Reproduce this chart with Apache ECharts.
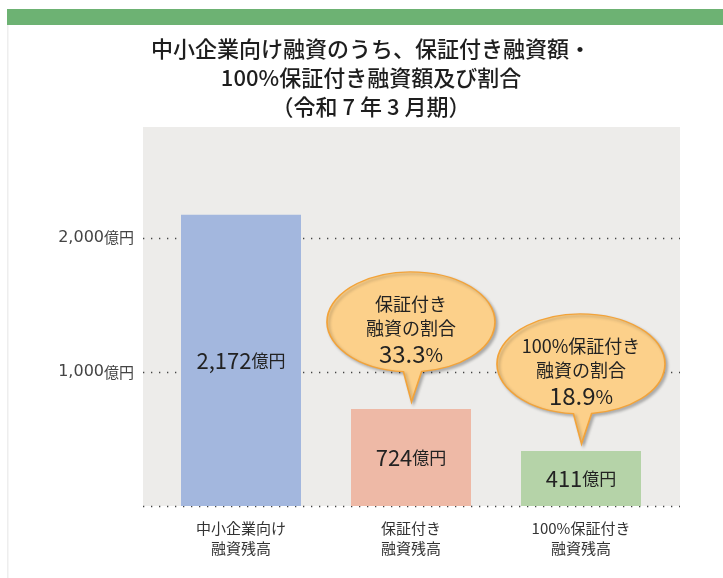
<!DOCTYPE html>
<html>
<head>
<meta charset="utf-8">
<script src="https://cdn.jsdelivr.net/npm/echarts@6/dist/echarts.min.js"></script>
<style>
  html, body { margin: 0; padding: 0; background: #fff; }
  #chart { width: 723px; height: 578px; }
</style>
</head>
<body>
<div id="chart"></div>
<script>
// 令和7年3月期 融資残高(億円)
const categories = ["中小企業向け\n融資残高", "保証付き\n融資残高", "100%保証付き\n融資残高"];
const amounts = [2172, 724, 411];
const barColors = ["#a3b7de", "#eeb9a6", "#b5d3a8"];
// 吹き出し(割合)
const ratioNames = ["保証付き\n融資の割合", "100%保証付き\n融資の割合"];
const ratioValues = ["33.3", "18.9"];
const ratioBarIndex = [1, 2];
const yTicks = [1000, 2000];

const FONT = "Noto Sans CJK JP";
const yMax = 2826;

// 吹き出しの形(楕円+しっぽ)
const bubblePath = "path://M76 99.8 A83 50 0 1 1 94 99.6 L84 130 Z";

const chart = echarts.init(document.getElementById("chart"));

chart.setOption({
  backgroundColor: "#fff",
  animation: false,
  textStyle: { fontFamily: FONT },
  title: {
    text: "中小企業向け融資のうち、保証付き融資額・\n100%保証付き融資額及び割合\n（令和 7 年 3 月期）",
    left: 366,
    top: 29,
    textAlign: "center",
    textStyle: {
      fontFamily: FONT,
      fontSize: 22,
      fontWeight: 500,
      color: "#1e1e1e",
      lineHeight: 29
    }
  },
  graphic: [
    { type: "rect", shape: { x: 7, y: 9, width: 716, height: 16 }, style: { fill: "#6db273" } },
    { type: "rect", shape: { x: 7, y: 25, width: 1.5, height: 553 }, style: { fill: "#eeeeee" } }
  ],
  grid: [
    { left: 143, right: 43, top: 127, bottom: 72, show: true, backgroundColor: "#edecea", borderWidth: 0 },
    { left: 156, right: 57, top: 127, bottom: 72 }
  ],
  xAxis: [
    { gridIndex: 0, type: "value", min: 0, max: 1, show: false },
    {
      gridIndex: 1,
      type: "category",
      data: categories,
      axisLine: { show: false },
      axisTick: { show: false },
      axisLabel: {
        margin: 12,
        fontSize: 15,
        lineHeight: 20,
        color: "#333",
        fontFamily: FONT
      }
    }
  ],
  yAxis: [
    {
      gridIndex: 0,
      type: "value",
      min: 0,
      max: yMax,
      interval: 1000,
      axisLine: { show: false },
      axisTick: { show: false },
      axisLabel: {
        margin: 9,
        formatter: function (v) {
          if (yTicks.indexOf(v) < 0) return "";
          return "{n|" + v.toLocaleString("en-US") + "}{u|億円}";
        },
        rich: {
          n: { fontFamily: "DejaVu Sans", fontSize: 16, color: "#444" },
          u: { fontFamily: FONT, fontSize: 15, color: "#444" }
        }
      },
      splitLine: {
        show: true,
        showMaxLine: false,
        lineStyle: { color: "#444", width: 1.3, type: [1.3, 6.7] }
      }
    },
    { gridIndex: 1, type: "value", min: 0, max: yMax, show: false }
  ],
  series: [
    {
      type: "bar",
      xAxisIndex: 1,
      yAxisIndex: 1,
      barWidth: 120,
      data: amounts.map(function (v, i) {
        return { value: v, itemStyle: { color: barColors[i] } };
      }),
      label: {
        show: true,
        position: "inside",
        formatter: function (p) {
          return "{n|" + p.value.toLocaleString("en-US") + "}{u|億円}";
        },
        rich: {
          n: { fontFamily: FONT, fontSize: 22, color: "#222" },
          u: { fontFamily: FONT, fontSize: 17, color: "#222" }
        }
      },
      markPoint: {
        symbol: bubblePath,
        symbolSize: [168, 130],
        symbolOffset: [0, -72],
        itemStyle: {
          color: "#fcd08a",
          borderColor: "#f2a33a",
          borderWidth: 1.5,
          shadowBlur: 3,
          shadowOffsetX: 2,
          shadowOffsetY: 2,
          shadowColor: "rgba(0,0,0,0.25)"
        },
        label: {
          show: true,
          position: ["50%", "45%"],
          align: "center",
          verticalAlign: "middle",
          formatter: function (p) {
            return "{a|" + p.data.text.split("\n").join("}\n{a|") + "}\n{n|" + p.data.pct + "}{p|%}";
          },
          rich: {
            a: { fontFamily: FONT, fontSize: 18, lineHeight: 24, color: "#222" },
            n: { fontFamily: FONT, fontSize: 24, lineHeight: 28, color: "#222" },
            p: { fontFamily: FONT, fontSize: 19, lineHeight: 28, color: "#222" }
          }
        },
        data: ratioBarIndex.map(function (bi, k) {
          return {
            coord: [bi, amounts[bi]],
            text: ratioNames[k],
            pct: ratioValues[k]
          };
        })
      }
    }
  ]
});
</script>
</body>
</html>
